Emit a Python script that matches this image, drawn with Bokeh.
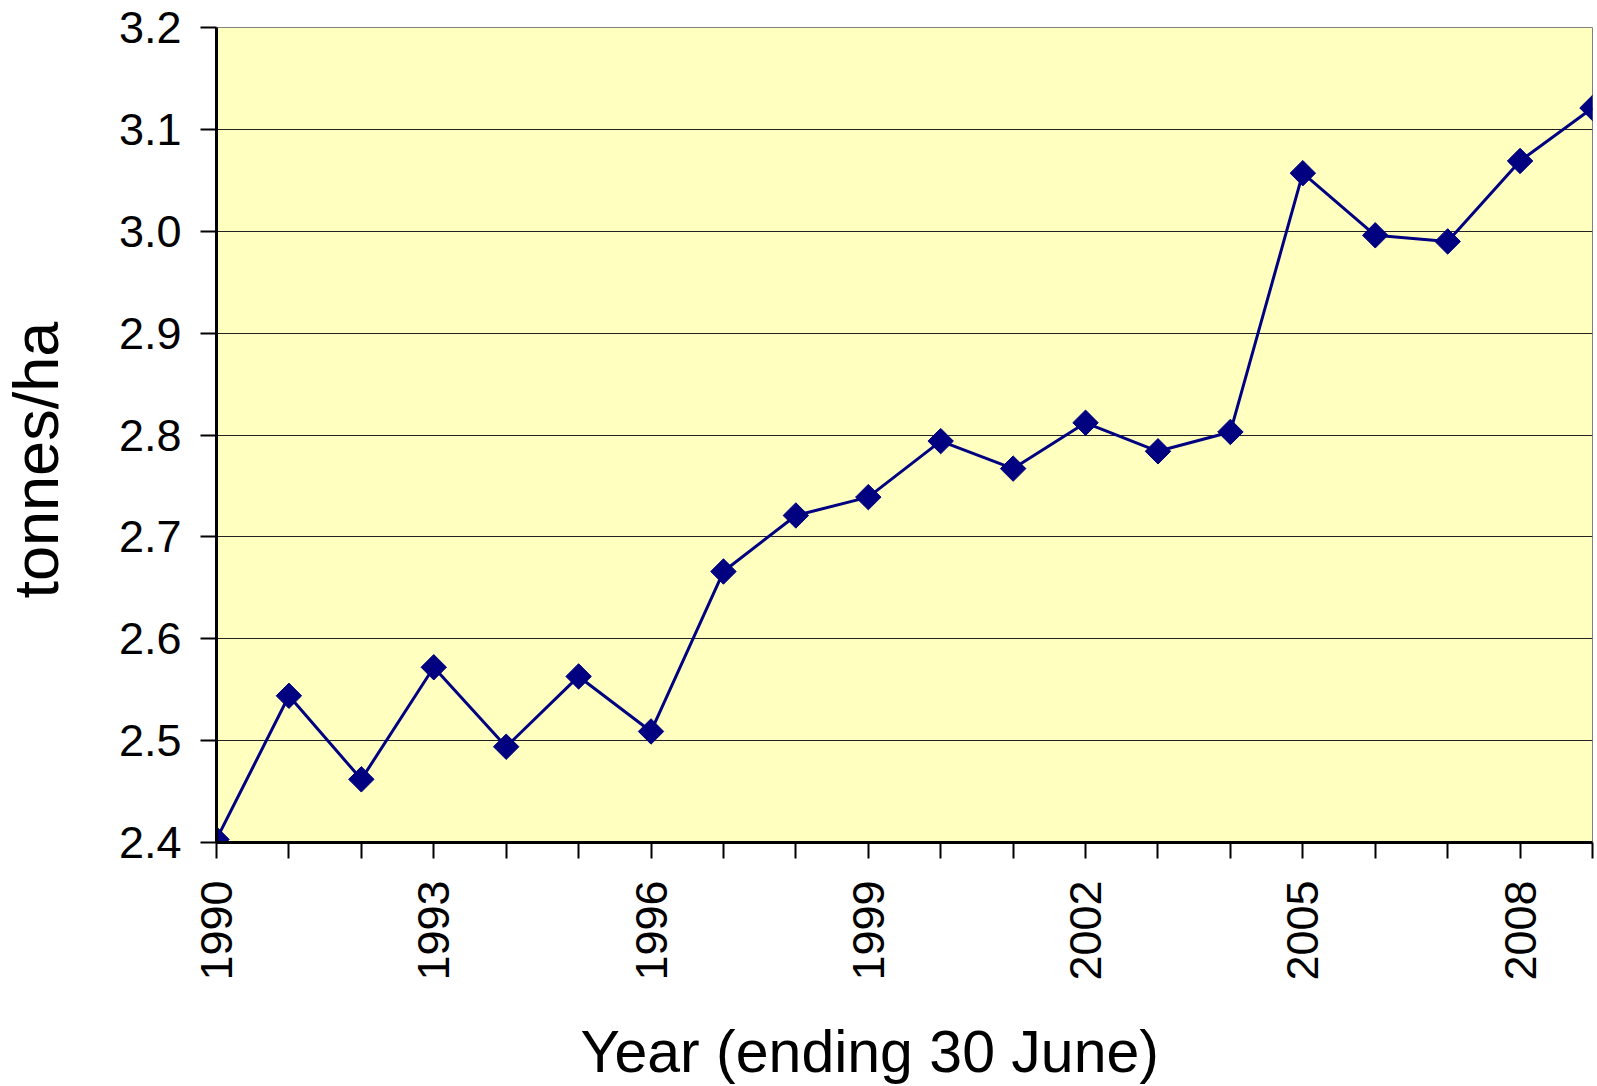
import numpy as np
from bokeh.plotting import figure
from bokeh.models import Range1d, FixedTicker, PrintfTickFormatter, Title, LinearAxis
from bokeh.embed import file_html
from bokeh.resources import INLINE

years = list(range(1990, 2010))
yields = [2.403, 2.544, 2.462, 2.572, 2.494, 2.563, 2.509, 2.666, 2.721, 2.739,
          2.794, 2.767, 2.812, 2.784, 2.803, 3.057, 2.996, 2.990, 3.069, 3.121]
y_ticks = [2.4, 2.5, 2.6, 2.7, 2.8, 2.9, 3.0, 3.1, 3.2]
x_label_years = [1990, 1993, 1996, 1999, 2002, 2005, 2008]

FONT = "Liberation Sans"
NAVY = "#000080"

p = figure(width=1597, height=1086, output_backend="svg", toolbar_location=None,
           x_range=Range1d(1990, 2009), y_range=Range1d(2.4, 3.2),
           min_border_left=216, min_border_top=27, min_border_right=5,
           min_border_bottom=244)

p.background_fill_color = "#FFFFC0"
p.border_fill_color = "white"
p.outline_line_color = "#808080"
p.outline_line_width = 1

p.xgrid.grid_line_color = None
p.ygrid.grid_line_color = "#222222"
p.ygrid.grid_line_width = 1

p.yaxis.ticker = FixedTicker(ticks=y_ticks)
p.yaxis.formatter = PrintfTickFormatter(format="%.1f")
p.xaxis.ticker = FixedTicker(ticks=years)
p.xaxis.major_label_overrides = {y: (str(y) if y in x_label_years else "") for y in years}
p.xaxis.major_label_orientation = np.pi / 2

for ax in (p.xaxis, p.yaxis):
    ax.axis_line_color = "black"
    ax.axis_line_width = 3
    ax.major_tick_line_color = "black"
    ax.major_tick_line_width = 2
    ax.major_tick_out = 16
    ax.major_tick_in = 0
    ax.minor_tick_line_color = None
    ax.major_label_text_font = FONT
    ax.major_label_text_font_size = "45px"
    ax.major_label_text_color = "black"

p.yaxis.major_label_standoff = 19
p.xaxis.major_label_standoff = 22

p.line(years, yields, line_color=NAVY, line_width=3)
p.scatter(years, yields, marker="square", angle=np.pi / 4, size=18,
          fill_color=NAVY, line_color=NAVY)

# invisible spacer between the y axis and its title (white tick on white border)
spacer = LinearAxis(ticker=FixedTicker(ticks=[y_ticks[0]]), axis_line_color=None,
                    major_tick_line_color="white", minor_tick_line_color=None,
                    major_tick_out=43, major_tick_in=0, minor_tick_out=0,
                    major_label_standoff=0, axis_label=None,
                    major_label_overrides={y_ticks[0]: ""},
                    major_label_text_font_size="1px")
p.add_layout(spacer, "left")

ytitle = Title(text="tonnes/ha", align="left", offset=244, vertical_align="top",
               text_font=FONT, text_font_size="63px", text_font_style="normal",
               text_color="black", standoff=0)
p.add_layout(ytitle, "left")
xtitle = Title(text="Year (ending 30 June)", align="left", offset=364,
               vertical_align="bottom",
               text_font=FONT, text_font_size="59px", text_font_style="normal",
               text_color="black", standoff=0,
               padding=dict(top=33, right=0, bottom=0, left=0))
p.add_layout(xtitle, "below")

open("out.html", "w").write(file_html(p, INLINE))
